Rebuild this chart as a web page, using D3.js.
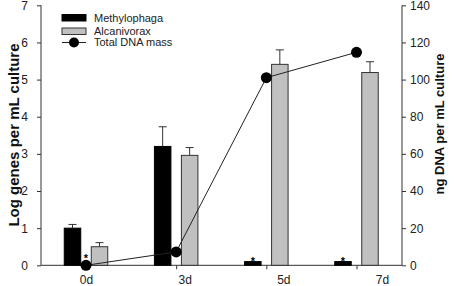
<!DOCTYPE html>
<html><head><meta charset="utf-8">
<script src="https://cdn.jsdelivr.net/npm/d3@7"></script>
<style>body{margin:0;background:#fff}svg{display:block;font-family:"Liberation Sans",Arial,sans-serif}</style>
</head><body><svg id="c" width="454" height="286"></svg>
<script>
const days = ["0d","3d","5d","7d"];
const methylophaga = [1.0, 3.2, 0.1, 0.1];
const methylophagaErr = [0.1, 0.53, 0, 0];
const alcanivorax = [0.5, 2.96, 5.41, 5.19];
const alcanivoraxErr = [0.11, 0.21, 0.39, 0.29];
const dnaMass = [0, 7.2, 101, 114.7];
const dnaErr = [0, 0, 0, 2];
const stars = [{day:"0d", series:"dna"}, {day:"5d", series:"meth"}, {day:"7d", series:"meth"}];
const leftTicks = [0,1,2,3,4,5,6,7];
const rightTicks = [0,20,40,60,80,100,120,140];

const svg = d3.select("#c");
const x0 = 41, x1 = 402, yB = 265.3, yT = 5.3;
const yL = d3.scaleLinear().domain([0,7]).range([yB,yT]);
const yR = d3.scaleLinear().domain([0,140]).range([yB,yT]);
const xG = d3.scalePoint().domain(days).range([86,356.5]);
const xLab = d3.scalePoint().domain(days).range([86,382]);
const off = 13.5, bw = 16.5;

// axes
const axL = svg.append("g").attr("transform",`translate(${x0},0)`)
  .call(d3.axisLeft(yL).tickValues(leftTicks).tickSize(4).tickPadding(9).tickFormat(d3.format("d")));
const axR = svg.append("g").attr("transform",`translate(${x1},0)`)
  .call(d3.axisRight(yR).tickValues(rightTicks).tickSize(4).tickPadding(4));
[axL,axR].forEach(a=>{a.select(".domain").attr("d",null);a.selectAll("text").attr("font-size",12).attr("fill","#222").style("font-family","Liberation Sans, Arial, sans-serif");a.selectAll("line").attr("stroke","#333");});
svg.append("line").attr("x1",x0).attr("x2",x0).attr("y1",yT).attr("y2",yB).attr("stroke","#333");
svg.append("line").attr("x1",x1).attr("x2",x1).attr("y1",yT).attr("y2",yB).attr("stroke","#333");
const axB = svg.append("g").attr("transform",`translate(0,${yB})`).call(d3.axisBottom(xG).tickSize(4).tickFormat(""));
axB.select(".domain").remove(); axB.selectAll("line").attr("stroke","#333");
svg.append("line").attr("x1",x0).attr("x2",x1).attr("y1",yB).attr("y2",yB).attr("stroke","#333");
const axBL = svg.append("g").attr("transform",`translate(0,${yB})`).call(d3.axisBottom(xLab).tickSize(0).tickPadding(10));
axBL.select(".domain").remove();
axBL.selectAll("text").attr("font-size",12).attr("fill","#222").style("font-family","Liberation Sans, Arial, sans-serif");

// bars
function bars(vals, errs, dx, fill, stroke){
  const g = svg.append("g");
  days.forEach((d,i)=>{
    const cx = xG(d)+dx;
    g.append("rect").attr("x",cx-bw/2).attr("width",bw).attr("y",yL(vals[i])).attr("height",yB-yL(vals[i]))
      .attr("fill",fill).attr("stroke",stroke).attr("stroke-width",1);
    if(errs[i]>0){
      g.append("line").attr("x1",cx).attr("x2",cx).attr("y1",yL(vals[i])).attr("y2",yL(vals[i]+errs[i])).attr("stroke","#333");
      g.append("line").attr("x1",cx-4).attr("x2",cx+4).attr("y1",yL(vals[i]+errs[i])).attr("y2",yL(vals[i]+errs[i])).attr("stroke","#333");
    }
  });
}
bars(methylophaga, methylophagaErr, -off, "#000", "#000");
bars(alcanivorax, alcanivoraxErr, off, "#c0c0c0", "#333");

// line
svg.append("path").datum(days).attr("fill","none").attr("stroke","#222").attr("stroke-width",1)
  .attr("d", d3.line().x(d=>xG(d)).y((d,i)=>yR(dnaMass[i])));
days.forEach((d,i)=>{
  if(dnaErr[i]>0){
    const cx=xG(d);
    [dnaMass[i]+dnaErr[i], dnaMass[i]-dnaErr[i]].forEach(v=>{
      svg.append("line").attr("x1",cx).attr("x2",cx).attr("y1",yR(dnaMass[i])).attr("y2",yR(v)).attr("stroke","#333");
      svg.append("line").attr("x1",cx-3).attr("x2",cx+3).attr("y1",yR(v)).attr("y2",yR(v)).attr("stroke","#333");
    });
  }
  svg.append("circle").attr("cx",xG(d)).attr("cy",yR(dnaMass[i])).attr("r",5.5).attr("fill","#000");
});

// stars
stars.forEach(s=>{
  const i = days.indexOf(s.day);
  let cx, top;
  if(s.series==="dna"){ cx = xG(s.day); top = yR(dnaMass[i]) - 6; }
  else { cx = xG(s.day)-off; top = yL(methylophaga[i]); }
  svg.append("text").attr("x",cx).attr("y",top+3).attr("text-anchor","middle").attr("font-size",11).attr("font-weight","bold").text("*");
});

// titles
svg.append("text").attr("transform","translate(19,135) rotate(-90)").attr("text-anchor","middle")
  .attr("font-size",15).attr("font-weight","bold").attr("fill","#111").text("Log genes per mL culture");
svg.append("text").attr("transform","translate(444,124) rotate(-90)").attr("text-anchor","middle")
  .attr("font-size",13).attr("font-weight","bold").attr("fill","#111").text("ng DNA per mL culture");

// legend
const lg = svg.append("g");
const lx = 62, lw = 24;
lg.append("rect").attr("x",lx).attr("y",14.5).attr("width",lw).attr("height",6.5).attr("fill","#000").attr("stroke","#000");
lg.append("rect").attr("x",lx).attr("y",28).attr("width",lw).attr("height",6.5).attr("fill","#c0c0c0").attr("stroke","#333");
lg.append("line").attr("x1",lx).attr("x2",lx+lw).attr("y1",42.5).attr("y2",42.5).attr("stroke","#222");
lg.append("circle").attr("cx",lx+lw/2).attr("cy",42.5).attr("r",5).attr("fill","#000");
[["Methylophaga",17.8],["Alcanivorax",31.3],["Total DNA mass",42.5]].forEach(([t,y])=>{
  lg.append("text").attr("x",94).attr("y",y).attr("dy","0.35em").attr("font-size",11).attr("fill","#222").text(t);
});
</script></body></html>
